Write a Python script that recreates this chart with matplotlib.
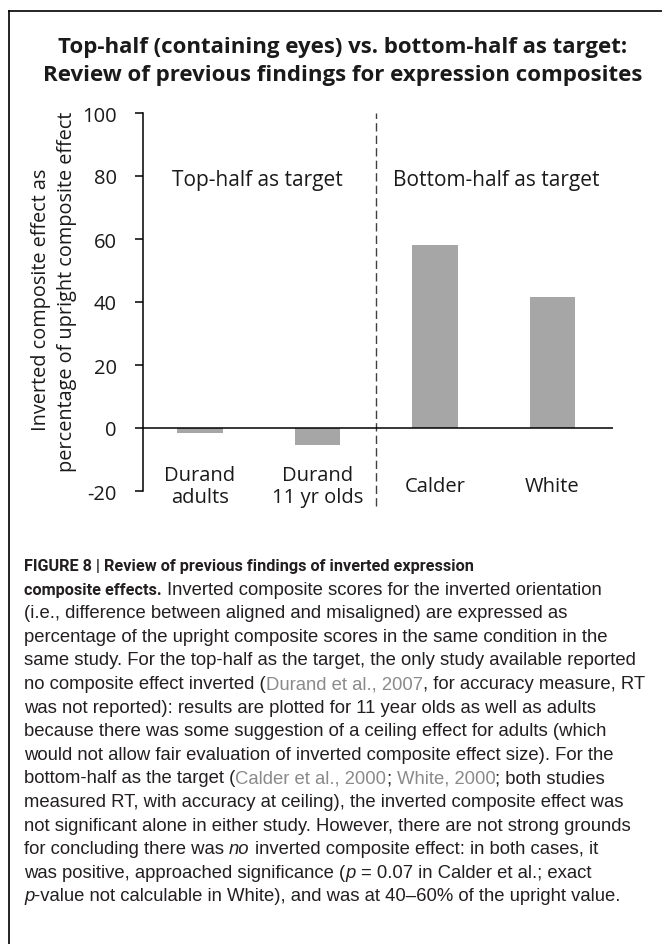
import matplotlib
matplotlib.use("Agg")
import matplotlib.pyplot as plt
from matplotlib.lines import Line2D
from matplotlib.font_manager import FontProperties, findfont

# data
studies = ["Durand\nadults", "Durand\n11 yr olds", "Calder", "White"]
effect_pct = [-1.5, -5.4, 58.1, 41.6]
y_ticks = [-20, 0, 20, 40, 60, 80, 100]
group_labels = ["Top-half as target", "Bottom-half as target"]
title_lines = ["Top-half (containing eyes) vs. bottom-half as target:",
               "Review of previous findings for expression composites"]
ylabel_lines = ["Inverted composite effect as",
                "percentage of upright composite effect"]

# caption runs: (text, style)  b=bold, r=regular, i=italic, g=grey citation
caption = [
    [("FIGURE 8 | Review of previous findings of inverted expression", "b")],
    [("composite effects.", "b"), (" Inverted composite scores for the inverted orientation", "r")],
    [("(i.e., difference between aligned and misaligned) are expressed as", "r")],
    [("percentage of the upright composite scores in the same condition in the", "r")],
    [("same study. For the top-half as the target, the only study available reported", "r")],
    [("no composite effect inverted (", "r"), ("Durand et al., 2007", "g"),
     (", for accuracy measure, RT", "r")],
    [("was not reported): results are plotted for 11 year olds as well as adults", "r")],
    [("because there was some suggestion of a ceiling effect for adults (which", "r")],
    [("would not allow fair evaluation of inverted composite effect size). For the", "r")],
    [("bottom-half as the target (", "r"), ("Calder et al., 2000", "g"), ("; ", "r"),
     ("White, 2000", "g"), ("; both studies", "r")],
    [("measured RT, with accuracy at ceiling), the inverted composite effect was", "r")],
    [("not significant alone in either study. However, there are not strong grounds", "r")],
    [("for concluding there was ", "r"), ("no", "i"),
     (" inverted composite effect: in both cases, it", "r")],
    [("was positive, approached significance (", "r"), ("p", "i"),
     (" = 0.07 in Calder et al.; exact", "r")],
    [("p", "i"), ("-value not calculable in White), and was at 40\u201360% of the upright value.", "r")],
]

W, H = 662, 945
chart_font = "Open Sans"
cap_font = "Liberation Sans"
cap_size = 13.3
text_col = "#1a1a1a"

# condensed bold for the caption heading, if the narrow family is there
try:
    findfont(FontProperties(family="Liberation Sans Narrow", weight="bold"),
             fallback_to_default=False)
    bold_font, bold_size = "Liberation Sans Narrow", 13.1
except Exception:
    bold_font, bold_size = "Roboto", 11.7

fig = plt.figure(figsize=(W / 100, H / 100), dpi=100)
ax = fig.add_axes([143 / W, 1 - 492 / H, (613 - 143) / W, (492 - 114) / H])

x = list(range(len(studies)))
ax.bar(x, effect_pct, width=0.39, color="#a6a6a6", zorder=2)
ax.axhline(0, color="black", lw=1.1, zorder=3)
ax.axvline(1.5, ymin=-0.04, ymax=1.0, color="#404040", lw=1.0,
           dashes=(6, 3), clip_on=False)

ax.set_xlim(-0.485, 3.515)
ax.set_ylim(-20, 100)
ax.set_yticks(y_ticks)
ax.set_yticklabels([str(v) for v in y_ticks], fontfamily=chart_font,
                   fontsize=14.5, color=text_col)
ax.set_xticks([])
for s in ["top", "right", "bottom"]:
    ax.spines[s].set_visible(False)
ax.spines["left"].set_linewidth(1.1)
ax.tick_params(axis="y", direction="out", length=6, width=1.1, pad=13)

for xi, lab in zip(x, studies):
    ax.text(xi, -18.5, lab, ha="center", va="center", fontfamily=chart_font,
            fontsize=14.5, color=text_col, linespacing=1.15)

ax.text(0.485, 79, group_labels[0], ha="center", va="center",
        fontfamily=chart_font, fontsize=15, color=text_col)
ax.text(2.52, 79, group_labels[1], ha="center", va="center",
        fontfamily=chart_font, fontsize=15, color=text_col)

# y label, two lines
fig.text(41 / W, 1 - 300 / H, ylabel_lines[0], rotation=90, ha="center",
         va="center", fontfamily=chart_font, fontsize=14.3, color=text_col)
fig.text(67 / W, 1 - 292 / H, ylabel_lines[1], rotation=90, ha="center",
         va="center", fontfamily=chart_font, fontsize=14.3, color=text_col)

# title
fig.text(343 / W, 1 - 53 / H, title_lines[0], ha="center", va="baseline",
         fontfamily=chart_font, fontweight="bold", fontsize=16, color=text_col)
fig.text(343 / W, 1 - 81 / H, title_lines[1], ha="center", va="baseline",
         fontfamily=chart_font, fontweight="bold", fontsize=16, color=text_col)

# frame lines
fig.add_artist(Line2D([9 / W, 9 / W], [0, 1 - 12 / H], color="black", lw=1.2))
fig.add_artist(Line2D([9 / W, 1], [1 - 12 / H, 1 - 12 / H], color="black", lw=1.2))

# caption
renderer = fig.canvas.get_renderer()
styles = {
    "r": dict(family=cap_font, size=cap_size, weight="normal", style="normal", color="#231f20"),
    "b": dict(family=bold_font, size=bold_size, weight="bold", style="normal", color="#231f20"),
    "i": dict(family=cap_font, size=cap_size, weight="normal", style="italic", color="#231f20"),
    "g": dict(family=cap_font, size=cap_size, weight="normal", style="normal", color="#8a8a8a"),
}


def advance(s, fp):
    w1 = renderer.get_text_width_height_descent("x" + s + "x", fp, ismath=False)[0]
    w0 = renderer.get_text_width_height_descent("xx", fp, ismath=False)[0]
    return w1 - w0


y0 = 571
dy = 23.6
for k, line in enumerate(caption):
    xp = 24.0
    yp = y0 + k * dy
    for txt, st in line:
        sty = styles[st]
        fp = FontProperties(family=sty["family"], size=sty["size"],
                            weight=sty["weight"], style=sty["style"])
        lead = len(txt) - len(txt.lstrip(" "))
        xs = xp + (advance(" " * lead, fp) if lead else 0)
        fig.text(xs / W, 1 - yp / H, txt.strip(" "), fontproperties=fp,
                 color=sty["color"], ha="left", va="baseline")
        xp += advance(txt, fp)

fig.savefig("out.png", dpi=100)
